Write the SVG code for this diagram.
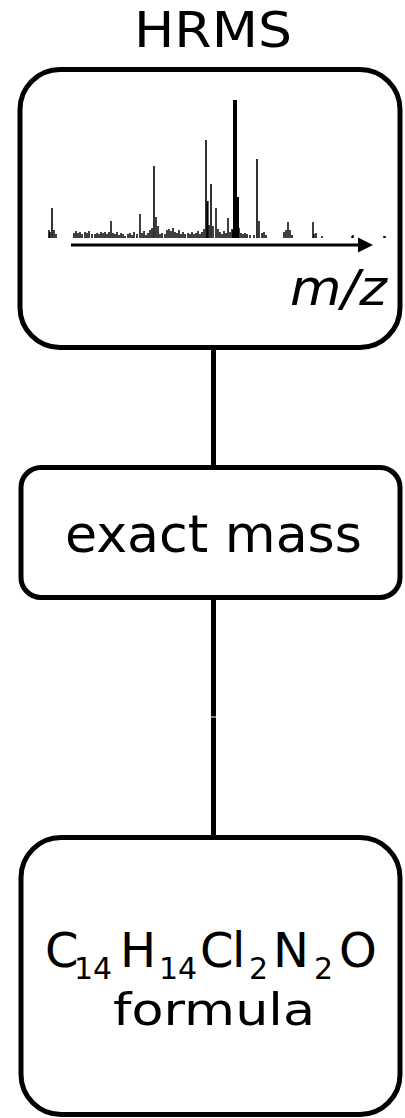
<svg xmlns="http://www.w3.org/2000/svg" width="405" height="1118" viewBox="0 0 405 1118">
<style>
.box{fill:#fff;stroke:#000;stroke-width:5}
.conn{stroke:#000;stroke-width:5;fill:none}
.t{font-family:"DejaVu Sans","Liberation Sans",sans-serif;fill:#000}
.pk{stroke:#000;fill:none}
</style>
<rect width="405" height="1118" fill="#fff"/>
<g id="connectors">
<line class="conn" x1="213.5" y1="347" x2="213.5" y2="467"/>
<line class="conn" x1="213.5" y1="597" x2="213.5" y2="716.5"/>
<line class="conn" x1="213.5" y1="717.5" x2="213.5" y2="837"/>
</g>
<g id="hrms">
<text class="t" x="213" y="47" font-size="50" text-anchor="middle" textLength="158" lengthAdjust="spacingAndGlyphs">HRMS</text>
<rect class="box" x="20" y="69.5" width="380" height="278" rx="40"/>
<path class="pk" stroke-width="1.5" d="M49 238V230M50 238V232M54 238V230M56 238V234M74 238V233M76 238V231M78 238V233M80 238V232M82 238V234M85 238V232M87 238V233M89 238V231M92 238V234M95 238V234M97 238V233M99 238V234M101 238V232M103 238V233M105 238V232M107 238V234M109 238V232M113 238V233M115 238V234M117 238V232M119 238V235M121 238V233M123 238V234M125 238V236M128 238V234M130 238V233M132 238V235M134 238V232M137 238V234M142 238V233M144 238V231M146 238V235M148 238V233M150 238V230M152 238V228M158 238V226M160 238V234M162 238V233M165 238V234M167 238V230M169 238V229M171 238V231M173 238V228M175 238V232M177 238V233M179 238V230M181 238V234M183 238V232M185 238V234M188 238V233M190 238V234M192 238V232M194 238V234M196 238V233M198 238V231M200 238V234M202 238V232M204 238V229M209 238V225M213 238V226M218 238V229M220 238V232M222 238V234M224 238V231M226 238V233M230 238V232M232 238V229M233 238V230M239 238V228M241 238V233M243 238V234M245 238V233M247 238V234M250 238V235M254 238V235M259 238V221M262 238V233M264 238V232M266 238V235M284 238V232M286 238V230M290 238V230M292 238V235M314 238V234M316 238V233M322 238V236M352 238V236M353 238V235M384 238V236M385 238V236M111 238V221M140 238V214M156 238V217M216 238V208M228 238V218M288 238V222M313 238V222"/>
<path class="pk" stroke-width="1.6" d="M52 238V208M154 238V166M206 238V140M211 238V184M257 238V159"/>
<path class="pk" stroke-width="2.2" d="M207.5 238V201"/>
<path class="pk" stroke-width="4" d="M235 238V100"/>
<path class="pk" stroke-width="3" d="M237.5 238V197"/>
<line x1="71" y1="245" x2="360" y2="245" stroke="#000" stroke-width="3"/>
<polygon points="358,237.5 373,245 358,252.5" fill="#000"/>
<text class="t" x="290" y="305" font-size="50" font-style="italic" textLength="97" lengthAdjust="spacingAndGlyphs">m/z</text>
</g>
<g id="exact-mass">
<rect class="box" x="21" y="467.5" width="379" height="130" rx="20"/>
<text class="t" x="213.5" y="552" font-size="52" text-anchor="middle" textLength="297" lengthAdjust="spacingAndGlyphs">exact mass</text>
</g>
<g id="formula">
<rect class="box" x="21" y="837.5" width="379" height="277" rx="40"/>
<text class="t" font-size="48" y="967"><tspan x="45">C</tspan><tspan x="74" y="979" font-size="30">14</tspan><tspan x="120" y="967">H</tspan><tspan x="159" y="979" font-size="30">14</tspan><tspan x="200" y="967">C</tspan><tspan x="232" y="967">l</tspan><tspan x="249" y="979" font-size="30">2</tspan><tspan x="273" y="967">N</tspan><tspan x="314" y="979" font-size="30">2</tspan><tspan x="339" y="967">O</tspan></text>
<text class="t" x="214" y="1025" font-size="44" text-anchor="middle" textLength="202" lengthAdjust="spacingAndGlyphs">formula</text>
</g>
</svg>
